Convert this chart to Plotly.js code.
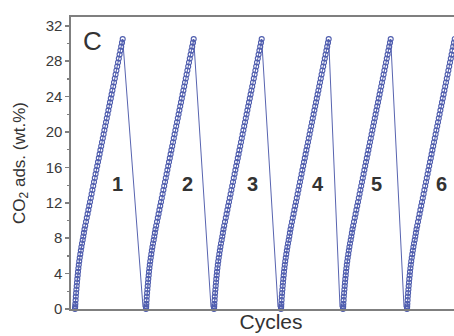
<!DOCTYPE html>
<html>
<head>
<meta charset="utf-8">
<script src="https://cdn.plot.ly/plotly-3.0.1.min.js"></script>
<style>
  html, body { margin: 0; padding: 0; overflow: hidden; background: #fff; }
  #chart { width: 471px; height: 336px; }
</style>
</head>
<body>
<div id="chart"></div>
<script>
// ---- data ----
const cycleLabels = ['1', '2', '3', '4', '5', '6'];
// start time of each adsorption cycle (arbitrary time units)
const cycleStart = [4, 75, 143, 210, 272, 336];
// time at which desorption returns to baseline, relative to cycle start
const desorbEnd = [68, 65, 64, 59, 61, 63];
const desorbValue = [0.2, 0.2, 0.2, 0.2, 0.2, 0.2];
// one adsorption profile (time since start, CO2 uptake wt.%)
const adsTime = [0, 0.1, 0.2, 0.35, 0.6, 0.8, 1.1, 1.4, 1.7, 2.0,
  2.3, 2.7, 3.0, 3.4, 3.8, 4.25, 4.75, 5.3, 5.85, 6.4,
  7.0, 7.7, 8.3, 8.9, 9.5, 10.2,
  11.0, 11.8, 12.6, 13.4, 14.2, 15.0, 15.8, 16.6, 17.4, 18.2,
  19.0, 19.8, 20.6, 21.4, 22.2, 23.0, 23.8, 24.6, 25.4, 26.2,
  27.0, 27.8, 28.6, 29.4, 30.2, 31.0, 31.8, 32.6, 33.4, 34.2,
  35.0, 35.8, 36.6, 37.4, 38.2, 39.0, 39.8, 40.6, 41.4, 42.2,
  43.0, 43.8, 44.6, 45.4, 46.2, 47.0, 47.7];
const adsValue = [0, 0.1, 0.3, 0.6, 1.0, 1.4, 1.8, 2.2, 2.6, 3.0,
  3.4, 3.8, 4.2, 4.6, 5.0, 5.4, 5.8, 6.2, 6.6, 7.0,
  7.4, 7.8, 8.2, 8.6, 9.0, 9.4,
  9.85, 10.3, 10.75, 11.2, 11.65, 12.1, 12.55, 13.0, 13.45, 13.9,
  14.35, 14.8, 15.25, 15.7, 16.15, 16.6, 17.05, 17.5, 17.95, 18.4,
  18.85, 19.3, 19.75, 20.2, 20.65, 21.1, 21.55, 22.0, 22.45, 22.9,
  23.35, 23.8, 24.25, 24.7, 25.15, 25.6, 26.05, 26.5, 26.95, 27.4,
  27.85, 28.3, 28.75, 29.2, 29.65, 30.1, 30.5];
const yTicks = [0, 4, 8, 12, 16, 20, 24, 28, 32];

// ---- build traces ----
const lineX = [], lineY = [], markX = [], markY = [];
cycleStart.forEach((s, i) => {
  adsTime.forEach((t, j) => {
    lineX.push(s + t); lineY.push(adsValue[j]);
    markX.push(s + t); markY.push(adsValue[j]);
  });
  lineX.push(s + desorbEnd[i]); lineY.push(desorbValue[i]);
});

const blue = '#4f5dae';
const axisGrey = '#7f7f7f';
const font = 'Liberation Sans, Arial, sans-serif';

const traces = [
  { x: lineX, y: lineY, type: 'scatter', mode: 'lines',
    line: { color: '#5864b0', width: 1 }, hoverinfo: 'skip' },
  { x: markX, y: markY, type: 'scatter', mode: 'markers', cliponaxis: false,
    marker: { symbol: 'circle-open', size: 5, color: blue, line: { width: 1.1, color: blue } } }
];

const labelX = [46, 116.5, 181, 246.5, 305, 370];
const annotations = cycleLabels.map((c, i) => ({
  x: labelX[i], y: 14.1, xref: 'x', yref: 'y', text: c, showarrow: false,
  xanchor: 'center', yanchor: 'middle',
  font: { family: font, size: 20, color: '#333', weight: 'bold' }
}));
annotations.push({
  x: 10, y: 30.3, xref: 'x', yref: 'y', text: 'C', showarrow: false,
  xanchor: 'left', yanchor: 'middle',
  font: { family: font, size: 26, color: '#333' }
});

const layout = {
  width: 471, height: 336,
  margin: { l: 71, r: 0, t: 17, b: 27 },
  paper_bgcolor: '#fff', plot_bgcolor: '#fff',
  showlegend: false,
  font: { family: font, color: '#333' },
  xaxis: {
    range: [0, 400], showline: true, linecolor: axisGrey, linewidth: 1.6, mirror: true,
    ticks: '', showticklabels: false, showgrid: false, zeroline: false,
    title: { text: 'Cycles', font: { family: font, size: 21, color: '#333' }, standoff: 4 }
  },
  yaxis: {
    range: [0, 33], tickvals: yTicks, ticktext: yTicks.map(String),
    ticks: 'outside', ticklen: 4, tickwidth: 1.5, tickcolor: axisGrey,
    showline: true, linecolor: axisGrey, linewidth: 1.6, mirror: false,
    showgrid: false, zeroline: false,
    tickfont: { family: font, size: 15, color: '#3a3a3a' },
    minor: { dtick: 2, tick0: 0, ticks: 'outside', ticklen: 2.5, tickwidth: 1.2, tickcolor: axisGrey, showgrid: false },
    title: { text: 'CO<sub>2</sub> ads. (wt.%)', font: { family: font, size: 17, color: '#333' }, standoff: 16 }
  },
  annotations: annotations
};

Plotly.newPlot('chart', traces, layout, { staticPlot: true, displayModeBar: false });
</script>
</body>
</html>
